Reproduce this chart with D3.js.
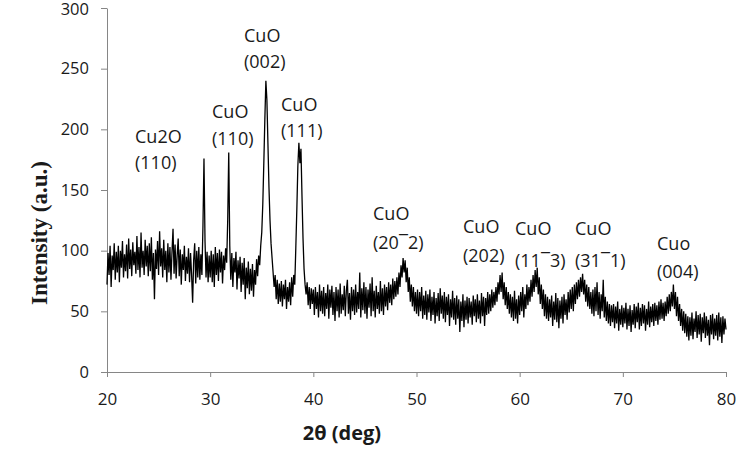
<!DOCTYPE html>
<html>
<head>
<meta charset="utf-8">
<script src="https://cdn.jsdelivr.net/npm/d3@7"></script>
<style>
  body { margin: 0; background: #fff; }
  svg { display: block; }
</style>
</head>
<body>
<div id="chart"></div>
<script>
// XRD pattern, 2θ from 20 to 80 deg, one reading every 0.1 deg
const thetaStart = 20
const thetaStep = 0.1

const counts20to30 = [
  72, 98, 80, 104, 70, 96, 84, 106, 76, 99,
  82, 104, 74, 100, 86, 108, 78, 97, 83, 105,
  77, 110, 85, 101, 79, 107, 88, 99, 81, 112,
  84, 103, 78, 115, 86, 100, 80, 109, 87, 104,
  79, 106, 83, 111, 76, 98, 60, 101, 85, 108,
  80, 116, 87, 102, 78, 109, 84, 100, 74, 106,
  82, 103, 76, 99, 118, 81, 105, 77, 96, 110,
  79, 101, 72, 97, 84, 104, 75, 95, 81, 102,
  74, 98, 80, 57, 92, 106, 73, 100, 78, 103,
  76, 97, 80, 120, 176, 108, 78, 99, 74, 96
]
const counts30to40 = [
  78, 100, 74, 97, 70, 103, 80, 98, 75, 101,
  82, 99, 73, 96, 84, 102, 90, 125, 181, 104,
  76, 98, 70, 94, 82, 99, 68, 92, 77, 95,
  66, 90, 72, 94, 60, 86, 69, 91, 64, 85,
  67, 89, 62, 84, 72, 93, 79, 96, 88, 104,
  115, 138, 172, 208, 240, 224, 188, 152, 125, 106,
  94, 82, 70, 80, 60, 76, 56, 73, 58, 75,
  54, 72, 60, 76, 52, 70, 58, 74, 55, 78,
  62, 80, 72, 102, 134, 170, 189, 172, 184, 145,
  110, 85, 72, 64, 74, 55, 70, 52, 69, 56
]
const counts40to50 = [
  68, 47, 70, 52, 66, 45, 72, 50, 67, 48,
  70, 46, 65, 52, 72, 44, 68, 53, 71, 47,
  66, 42, 70, 50, 68, 45, 73, 48, 64, 51,
  71, 46, 67, 76, 48, 65, 43, 70, 50, 68,
  47, 72, 49, 66, 52, 82, 45, 69, 51, 74,
  48, 70, 44, 68, 53, 73, 46, 78, 50, 67,
  45, 71, 52, 66, 48, 75, 50, 69, 47, 72,
  54, 70, 51, 74, 57, 72, 55, 77, 60, 75,
  62, 78, 64, 82, 70, 88, 78, 94, 82, 92,
  74, 86, 66, 78, 58, 72, 54, 70, 50, 66
]
const counts50to60 = [
  48, 68, 46, 66, 50, 70, 44, 63, 47, 67,
  43, 64, 49, 68, 42, 62, 47, 66, 40, 61,
  46, 65, 42, 69, 48, 63, 44, 66, 41, 62,
  47, 64, 38, 60, 45, 67, 43, 61, 39, 63,
  44, 60, 33, 58, 42, 64, 37, 59, 43, 62,
  40, 61, 45, 58, 39, 63, 46, 60, 41, 64,
  44, 59, 40, 65, 46, 62, 38, 61, 47, 66,
  48, 64, 50, 68, 53, 66, 55, 70, 58, 74,
  64, 80, 66, 82, 60, 74, 55, 70, 52, 66,
  48, 64, 45, 62, 42, 67, 44, 60, 40, 63
]
const counts60to70 = [
  47, 66, 50, 70, 45, 64, 52, 72, 55, 70,
  58, 76, 62, 80, 66, 84, 70, 86, 64, 78,
  56, 72, 52, 68, 46, 64, 44, 62, 42, 60,
  45, 63, 38, 58, 43, 65, 41, 61, 36, 59,
  44, 62, 40, 64, 47, 60, 43, 66, 49, 68,
  52, 70, 50, 72, 56, 74, 60, 76, 62, 78,
  66, 81, 64, 76, 58, 72, 54, 70, 52, 66,
  48, 68, 46, 70, 50, 74, 47, 66, 44, 64,
  50, 76, 45, 62, 42, 58, 40, 56, 38, 55,
  41, 56, 36, 54, 40, 58, 34, 52, 39, 55
]
const counts70to80 = [
  37, 53, 40, 57, 35, 52, 38, 55, 33, 51,
  39, 56, 36, 54, 41, 57, 35, 53, 38, 56,
  40, 55, 34, 52, 39, 58, 37, 54, 41, 56,
  38, 57, 42, 55, 39, 58, 43, 60, 44, 57,
  42, 58, 46, 62, 48, 64, 50, 66, 54, 72,
  52, 66, 46, 62, 42, 56, 38, 52, 34, 50,
  32, 48, 29, 46, 26, 45, 30, 49, 27, 44,
  33, 50, 28, 47, 31, 48, 25, 45, 32, 49,
  28, 46, 30, 43, 22, 47, 31, 48, 27, 44,
  30, 47, 26, 49, 29, 45, 24, 46, 31, 44,
  35
]

const xTicks = [20, 30, 40, 50, 60, 70, 80]
const yTicks = [0, 50, 100, 150, 200, 250, 300]

const peakPhases = ['Cu2O', 'CuO', 'CuO', 'CuO', 'CuO', 'CuO', 'CuO', 'CuO', 'Cuo']
const peakPlanes = ['(110)', '(110)', '(002)', '(111)', '(20\u00AF2)', '(202)', '(11\u00AF3)', '(31\u00AF1)', '(004)']

// ---- layout ----
const width = 749
const height = 452
const margin = { top: 8, right: 23, bottom: 80, left: 107 }
// left edge and two baselines of each peak label, in pixels
const labelPos = [
  [135, 143, 169], [212, 118, 145], [244, 42, 68], [281, 111, 137],
  [373, 220, 249], [463, 233, 262], [515, 235, 267], [575, 235, 267], [657, 250, 278]
]
const axisColor = '#868686'
const textColor = '#1a1a1a'
const sans = '"Open Sans", sans-serif'

const series = [].concat(counts20to30, counts30to40, counts40to50,
  counts50to60, counts60to70, counts70to80)
  .map((v, i) => ({ theta: thetaStart + i * thetaStep, value: v }))

const x = d3.scaleLinear().domain([20, 80]).range([margin.left, width - margin.right])
const y = d3.scaleLinear().domain([0, 300]).range([height - margin.bottom, margin.top])

const svg = d3.select('#chart').append('svg')
  .attr('width', width)
  .attr('height', height)

// X axis
svg.append('g')
  .attr('transform', `translate(0,${height - margin.bottom})`)
  .call(d3.axisBottom(x).tickValues(xTicks).tickSize(5).tickSizeOuter(0))
  .call(g => {
    g.select('.domain').attr('stroke', axisColor)
    g.selectAll('.tick line').attr('stroke', axisColor)
    g.selectAll('.tick text')
      .attr('y', 33).attr('dy', 0)
      .attr('fill', textColor)
      .attr('font-size', '17px')
      .attr('font-family', sans)
  })

// Y axis
svg.append('g')
  .attr('transform', `translate(${margin.left},0)`)
  .call(d3.axisLeft(y).tickValues(yTicks).tickSize(6).tickSizeOuter(0).tickPadding(12))
  .call(g => {
    g.select('.domain').attr('stroke', axisColor)
    g.selectAll('.tick line').attr('stroke', axisColor)
    g.selectAll('.tick text')
      .attr('fill', textColor)
      .attr('font-size', '16.5px')
      .attr('font-family', sans)
  })
  // top label sits against the page edge; nudge it down a touch
  .call(g => g.selectAll('.tick text').filter(d => d === 300).attr('dy', '0.4em'))

// Trace
svg.append('path')
  .datum(series)
  .attr('fill', 'none')
  .attr('stroke', '#000')
  .attr('stroke-width', 1.3)
  .attr('stroke-linejoin', 'miter')
  .attr('d', d3.line().x(d => x(d.theta)).y(d => y(d.value)))

// Peak labels
const labels = svg.append('g')
  .attr('font-family', sans)
  .attr('font-size', '18px')
  .attr('fill', textColor)

peakPhases.forEach((name, i) => {
  const [lx, b1, b2] = labelPos[i]
  labels.append('text').attr('x', lx).attr('y', b1).text(name)
  labels.append('text').attr('x', lx).attr('y', b2).text(peakPlanes[i])
})

// Axis titles
svg.append('text')
  .attr('x', 342)
  .attr('y', 440)
  .attr('text-anchor', 'middle')
  .attr('font-family', sans)
  .attr('font-weight', 'bold')
  .attr('font-size', '20px')
  .attr('fill', textColor)
  .text('2θ (deg)')

svg.append('text')
  .attr('transform', 'translate(47,233) rotate(-90)')
  .attr('text-anchor', 'middle')
  .attr('font-family', '"Liberation Serif", "Times New Roman", serif')
  .attr('font-weight', 'bold')
  .attr('font-size', '23px')
  .attr('fill', textColor)
  .text('Intensity (a.u.)')
</script>
</body>
</html>
